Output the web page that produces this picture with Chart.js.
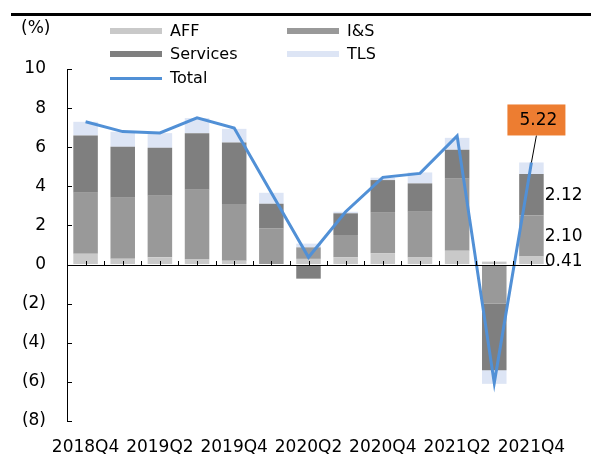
<!DOCTYPE html>
<html>
<head>
<meta charset="utf-8">
<script src="https://cdn.jsdelivr.net/npm/chart.js@4.4.1/dist/chart.umd.min.js"></script>
<style>
  html, body { margin: 0; padding: 0; background: #fff; }
  #wrap { width: 591px; height: 455px; position: relative; }
</style>
</head>
<body>
<div id="wrap"><canvas id="myChart" width="591" height="455"></canvas></div>
<script>
const quarters = ['2018Q4', '2019Q1', '2019Q2', '2019Q3', '2019Q4', '2020Q1', '2020Q2',
                  '2020Q3', '2020Q4', '2021Q1', '2021Q2', '2021Q3', '2021Q4'];
const aff      = [0.55, 0.30, 0.37, 0.26, 0.20, 0.00, 0.29, 0.37, 0.58, 0.36, 0.71, 0.15, 0.41];
const ins      = [3.12, 3.12, 3.15, 3.57, 2.90, 1.84, 0.59, 1.14, 2.07, 2.34, 3.68, -2.00, 2.10];
const services = [2.93, 2.60, 2.45, 2.89, 3.14, 1.27, -0.72, 1.11, 1.67, 1.45, 1.48, -3.40, 2.12];
const tls      = [0.70, 0.77, 0.75, 0.77, 0.70, 0.56, 0.19, 0.08, 0.12, 0.56, 0.61, -0.70, 0.59];
const total    = [7.30, 6.80, 6.73, 7.50, 6.98, 3.67, 0.37, 2.70, 4.46, 4.66, 6.58, -6.05, 5.22];
const yTicks   = [10, 8, 6, 4, 2, 0, -2, -4, -6, -8];

const FONT = '"DejaVu Sans", Verdana, sans-serif';

function fmtTick(v) {
    return v < 0 ? '(' + Math.abs(v) + ')' : String(v);
}

// axis bits, legend, labels drawn by hand
const extras = {
    id: 'extras',
    afterDatasetsDraw(chart) {
        const ctx = chart.ctx;
        const x = chart.scales.x;
        const y = chart.scales.y;
        const area = chart.chartArea;
        const y0 = y.getPixelForValue(0);
        ctx.save();
        ctx.strokeStyle = '#000';
        ctx.lineWidth = 1;
        // zero line
        ctx.beginPath();
        ctx.moveTo(area.left, Math.round(y0) + 0.5);
        ctx.lineTo(area.right, Math.round(y0) + 0.5);
        ctx.stroke();
        // little ticks on the zero line, centers and borders
        const step = x.getPixelForValue(1) - x.getPixelForValue(0);
        for (let i = 0; i < quarters.length; i++) {
            const cx = x.getPixelForValue(i);
            [cx, cx + step / 2].forEach(function (px) {
                if (px > area.right - 1) return;
                ctx.beginPath();
                ctx.moveTo(Math.round(px) + 0.5, Math.round(y0));
                ctx.lineTo(Math.round(px) + 0.5, Math.round(y0) - 4);
                ctx.stroke();
            });
        }
        // inward y ticks
        yTicks.forEach(function (v) {
            const py = Math.round(y.getPixelForValue(v)) + 0.5;
            ctx.beginPath();
            ctx.moveTo(area.left, py);
            ctx.lineTo(area.left + 5, py);
            ctx.stroke();
        });

        // value labels for the last quarter
        const last = quarters.length - 1;
        ctx.fillStyle = '#000';
        ctx.font = '17px ' + FONT;
        ctx.textAlign = 'left';
        ctx.textBaseline = 'middle';
        [0, 1, 2].forEach(function (di) {
            const el = chart.getDatasetMeta(di).data[last];
            const mid = (el.y + el.base) / 2;
            ctx.fillText(chart.data.datasets[di].data[last].toFixed(2), el.x + el.width / 2 + 1, mid + 1);
        });

        // orange callout for the total
        const topEl = chart.getDatasetMeta(3).data[last];
        const bx = topEl.x + 5;
        const boxW = 58, boxH = 31;
        const boxBottom = topEl.y - 27;
        ctx.beginPath();
        ctx.moveTo(bx, boxBottom);
        ctx.lineTo(topEl.x, topEl.y);
        ctx.stroke();
        ctx.fillStyle = '#ed7d31';
        ctx.fillRect(bx - boxW / 2, boxBottom - boxH, boxW, boxH);
        ctx.fillStyle = '#000';
        ctx.textAlign = 'center';
        ctx.fillText(total[last].toFixed(2), bx + 2, boxBottom - boxH / 2 + 1);

        // top rule and unit
        ctx.fillRect(11, 13, 580, 3);
        ctx.textAlign = 'left';
        ctx.fillText('(%)', 21, 29);

        // legend in two columns
        const cols = [110, 287];
        const rows = [31, 54, 78];
        ctx.font = '16px ' + FONT;
        chart.data.datasets.forEach(function (ds, i) {
            const lx = cols[i % 2];
            const ly = rows[Math.floor(i / 2)];
            if (ds.type === 'line') {
                ctx.fillStyle = ds.borderColor;
                ctx.fillRect(lx, ly - 1, 52, 3);
            } else {
                ctx.fillStyle = ds.backgroundColor;
                ctx.fillRect(lx, ly - 3, 52, 6);
            }
            ctx.fillStyle = '#000';
            ctx.fillText(ds.label, lx + 60, ly + 1);
        });
        ctx.restore();
    }
};

function createChart() {
    const ctx = document.getElementById('myChart').getContext('2d');
    new Chart(ctx, {
        type: 'bar',
        data: {
            labels: quarters,
            datasets: [
                { label: 'AFF', data: aff, backgroundColor: '#c9c9c9', order: 1 },
                { label: 'I&S', data: ins, backgroundColor: '#999999', order: 1 },
                { label: 'Services', data: services, backgroundColor: '#7f7f7f', order: 1 },
                { label: 'TLS', data: tls, backgroundColor: '#dde5f5', order: 1 },
                {
                    type: 'line',
                    label: 'Total',
                    data: total,
                    stack: 'total',
                    borderColor: '#5190d6',
                    borderWidth: 3,
                    pointRadius: 0,
                    tension: 0,
                    order: 0
                }
            ]
        },
        options: {
            responsive: false,
            animation: false,
            maintainAspectRatio: false,
            layout: { padding: { left: 0, right: 41, top: 69, bottom: 0 } },
            datasets: {
                bar: { categoryPercentage: 1, barPercentage: 0.66 }
            },
            plugins: {
                legend: { display: false },
                tooltip: { enabled: false }
            },
            scales: {
                x: {
                    stacked: true,
                    grid: { display: false },
                    border: { display: false },
                    afterFit: function (scale) { scale.height = 34; },
                    ticks: {
                        autoSkip: false,
                        maxRotation: 0,
                        padding: 8,
                        color: '#000',
                        font: { family: FONT, size: 17 },
                        callback: function (val, i) { return i % 2 === 0 ? quarters[i] : ''; }
                    }
                },
                y: {
                    stacked: true,
                    min: -8,
                    max: 10,
                    afterFit: function (scale) { scale.width = 67; },
                    grid: { drawOnChartArea: false, drawTicks: false },
                    border: { display: true, color: '#000', width: 1 },
                    ticks: {
                        stepSize: 2,
                        padding: 21,
                        color: '#000',
                        font: { family: FONT, size: 17 },
                        callback: function (v) { return fmtTick(v); }
                    }
                }
            }
        },
        plugins: [extras]
    });
}

createChart();
</script>
</body>
</html>
